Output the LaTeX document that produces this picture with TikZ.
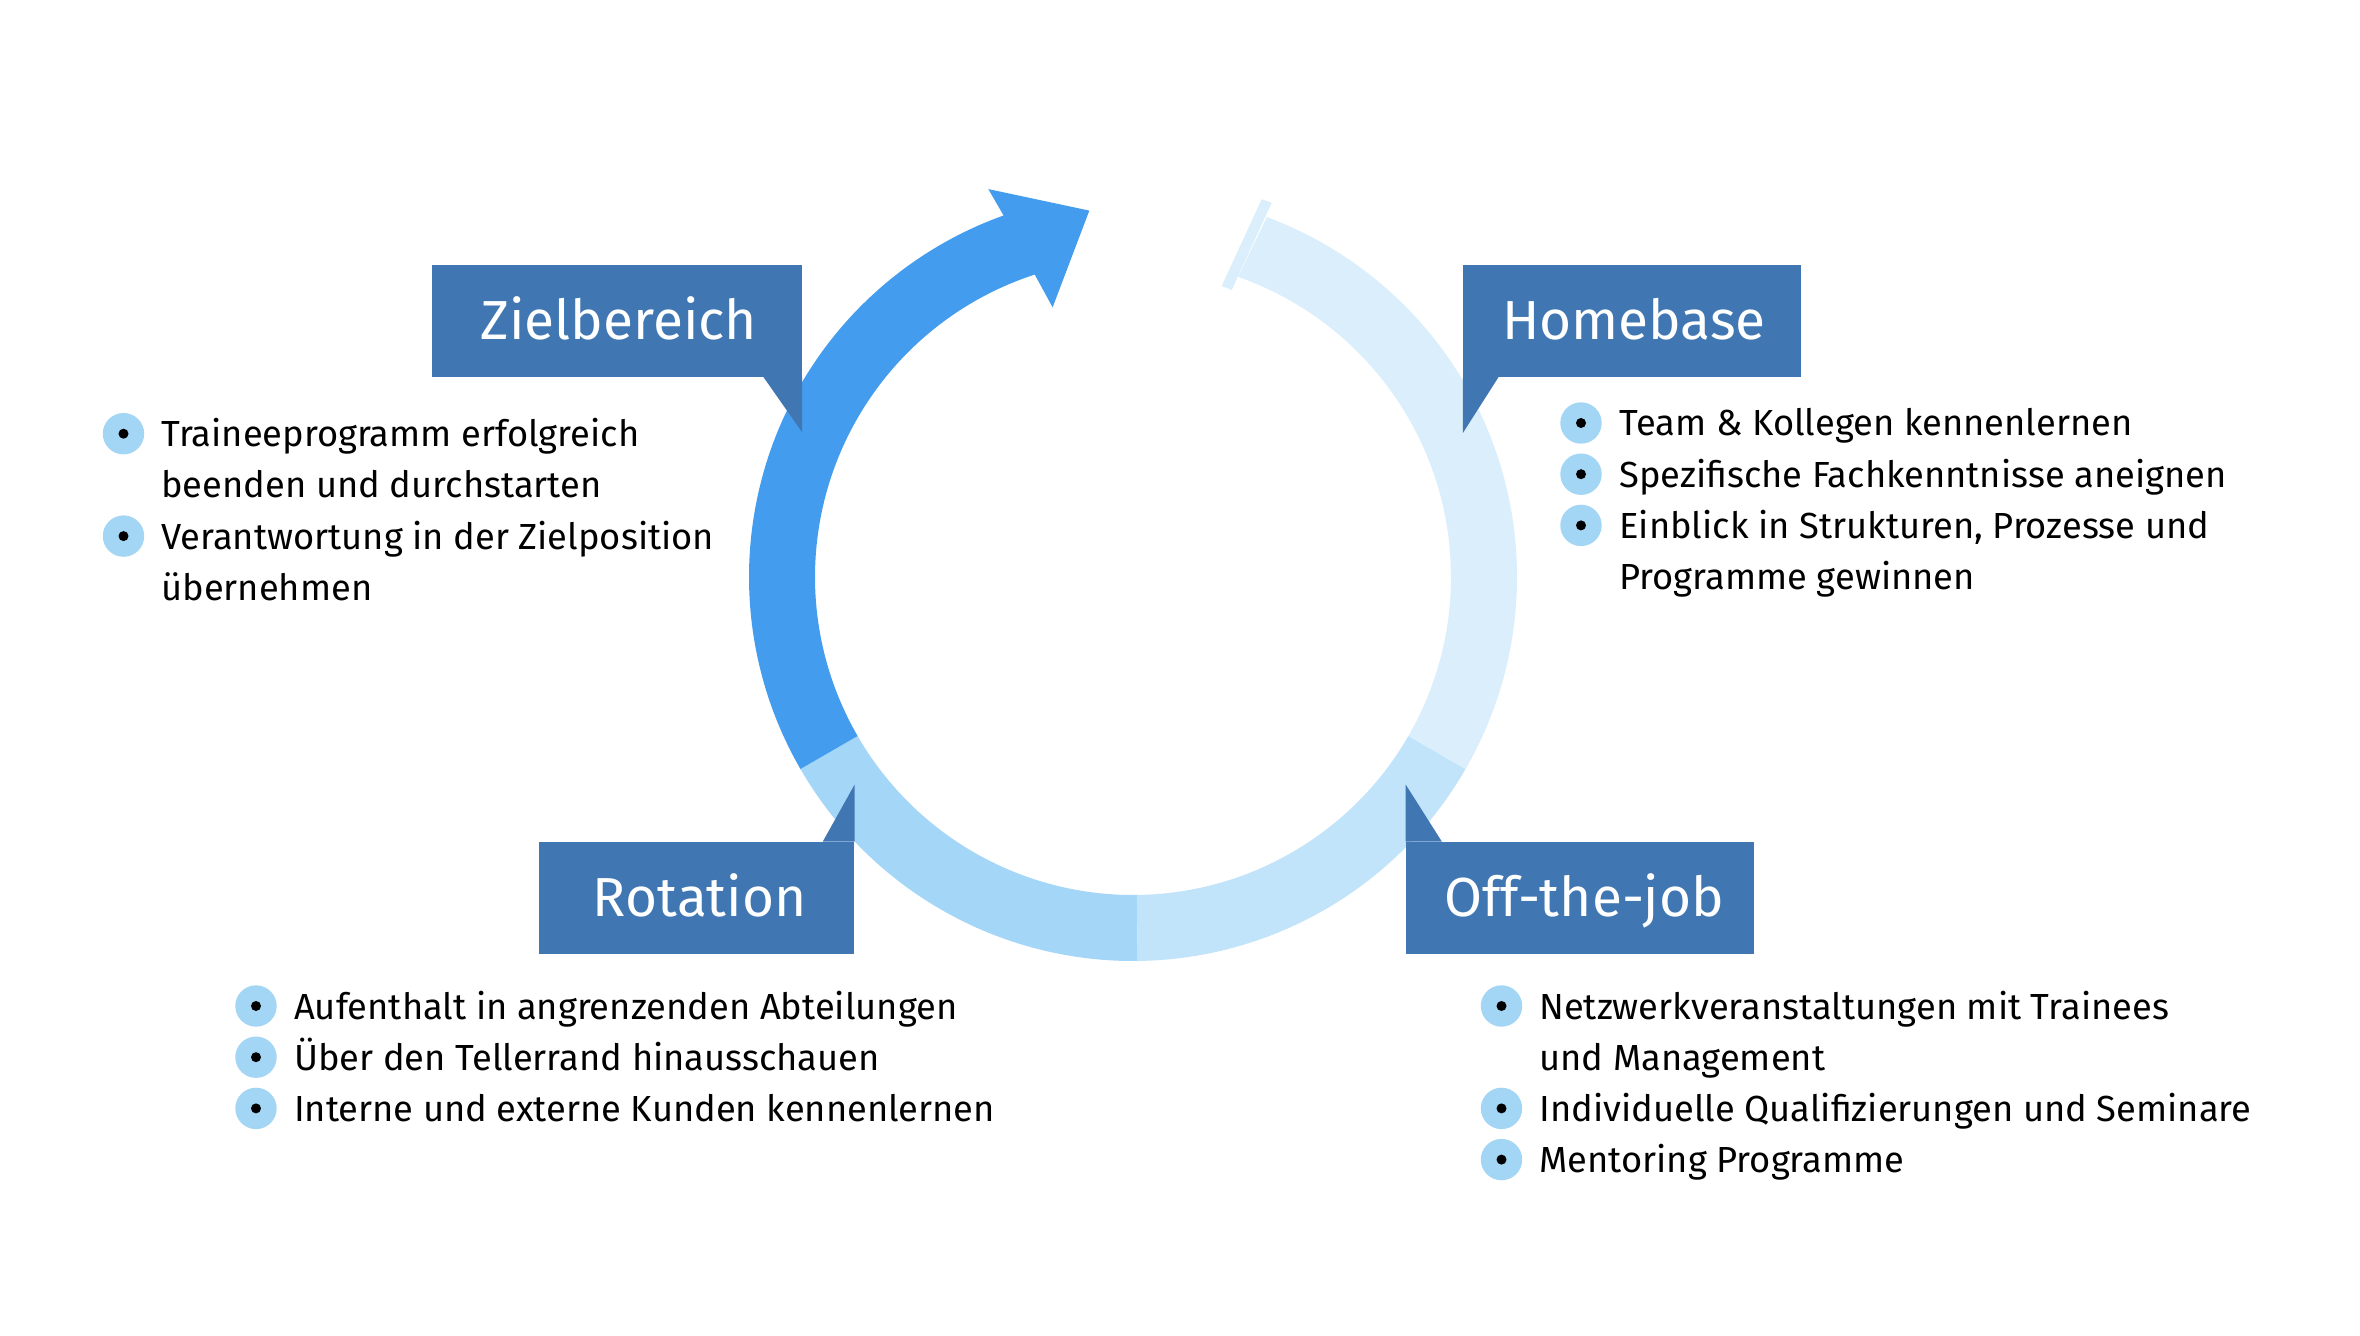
\documentclass[tikz,border=0pt]{standalone}
\usepackage{fontspec}
\setmainfont{Fira Sans}
\definecolor{ringdark}{HTML}{449CEE}
\definecolor{ringrot}{HTML}{A4D7F7}
\definecolor{ringoff}{HTML}{C1E4FA}
\definecolor{ringhome}{HTML}{DAEEFB}
\definecolor{boxblue}{HTML}{4077B3}
\definecolor{bulletblue}{HTML}{A3D5F5}
\begin{document}
\begin{tikzpicture}[x=0.5pt,y=-0.5pt,
  bodytext/.style={anchor=base west, inner sep=0pt, font=\fontsize{18.15pt}{25.6pt}\selectfont, text=black},
  titletext/.style={inner sep=0pt, text height=18.9pt, text depth=0pt, font=\fontsize{27.5pt}{33pt}\selectfont, text=white},
  titlebox/.style={fill=boxblue, inner sep=0pt, minimum height=55.7pt},
  bul/.style={circle, fill=bulletblue, inner sep=0pt, minimum size=20.7pt,
    path picture={\fill[black] (path picture bounding box.center) circle[radius=2.5pt];}}
]
\fill[white] (0,0) rectangle (2360,1336);
\useasboundingbox (0,0) rectangle (2360,1336);

% ring
\begin{scope}[shift={(1133,577)}, yscale=-1]
  \fill[ringrot] (210:384) arc[start angle=210, end angle=270.7, radius=384]
     -- (270.7:318) arc[start angle=270.7, end angle=210, radius=318] -- cycle;
  \fill[ringoff] (270.7:384) arc[start angle=270.7, end angle=330, radius=384]
     -- (330:318) arc[start angle=330, end angle=270.7, radius=318] -- cycle;
  \fill[ringhome] (330:384) arc[start angle=330, end angle=429.6, radius=384]
     -- (430.7:318) arc[start angle=430.7, end angle=330, radius=318] -- cycle;
  \fill[ringdark] (210:384) arc[start angle=210, end angle=109.7, radius=384]
     -- (110.45:414) -- (96.8:369) -- (106.6:281.4) -- (108:318)
     arc[start angle=108, end angle=210, radius=318] -- cycle;
\end{scope}
\fill[ringhome] (1261.7,199.3) -- (1271.7,202.7) -- (1231.7,290) -- (1221.7,286) -- cycle;

% title boxes
\node[titlebox, minimum width=184.85pt] (zbox) at (616.85,320.85) {};
\fill[boxblue] ([xshift=-19.35pt]zbox.south east) -- (zbox.south east) -- ([yshift=-27.65pt]zbox.south east) -- cycle;
\node[titletext] (ztitle) at ([xshift=1pt]zbox.center) {Zielbereich};

\node[titlebox, minimum width=168.7pt] (hbox) at (1632,320.85) {};
\fill[boxblue] (hbox.south west) -- ([xshift=17.85pt]hbox.south west) -- ([yshift=-28pt]hbox.south west) -- cycle;
\node[titletext] (htitle) at ([xshift=1pt]hbox.center) {Homebase};

\node[titlebox, minimum width=157.5pt] (rbox) at (696.8,897.8) {};
\fill[boxblue] (rbox.north east) -- ([xshift=-16pt]rbox.north east) -- ([yshift=28.65pt]rbox.north east) -- cycle;
\node[titletext] (rtitle) at ([xshift=1.5pt]rbox.center) {Rotation};

\node[titlebox, minimum width=174pt] (obox) at (1580,897.8) {};
\fill[boxblue] (obox.north west) -- ([xshift=18.15pt]obox.north west) -- ([yshift=28.65pt]obox.north west) -- cycle;
\node[titletext] (otitle) at ([xshift=2pt]obox.center) {Off-the-job};

% Zielbereich list
\node[bul] (zb1) at (123.5,433.7) {};
\node[bodytext] (zt1a) at (161,446.7) {Traineeprogramm erfolgreich};
\node[bodytext] (zt1b) at (161,497.9) {beenden und durchstarten};
\node[bul] (zb2) at (123.5,536.1) {};
\node[bodytext] (zt2a) at (161,549.1) {Verantwortung in der Zielposition};
\node[bodytext] (zt2b) at (161,600.3) {übernehmen};

% Homebase list
\node[bul] (hb1) at (1581,423) {};
\node[bodytext] (ht1) at (1619,436) {Team \& Kollegen kennenlernen};
\node[bul] (hb2) at (1581,474.2) {};
\node[bodytext] (ht2) at (1619,487.2) {Spezifische Fachkenntnisse aneignen};
\node[bul] (hb3) at (1581,525.4) {};
\node[bodytext] (ht3a) at (1619,538.4) {Einblick in Strukturen, Prozesse und};
\node[bodytext] (ht3b) at (1619,589.6) {Programme gewinnen};

% Rotation list
\node[bul] (rb1) at (256,1006) {};
\node[bodytext] (rt1) at (293.7,1019) {Aufenthalt in angrenzenden Abteilungen};
\node[bul] (rb2) at (256,1057.2) {};
\node[bodytext] (rt2) at (293.7,1070.2) {Über den Tellerrand hinausschauen};
\node[bul] (rb3) at (256,1108.4) {};
\node[bodytext] (rt3) at (293.7,1121.4) {Interne und externe Kunden kennenlernen};

% Off-the-job list
\node[bul] (ob1) at (1501.5,1006) {};
\node[bodytext] (ot1a) at (1539,1019) {Netzwerkveranstaltungen mit Trainees};
\node[bodytext] (ot1b) at (1539,1070.2) {und Management};
\node[bul] (ob2) at (1501.5,1108.4) {};
\node[bodytext] (ot2) at (1539,1121.4) {Individuelle Qualifizierungen und Seminare};
\node[bul] (ob3) at (1501.5,1159.6) {};
\node[bodytext] (ot3) at (1539,1172.6) {Mentoring Programme};
\end{tikzpicture}
\end{document}
